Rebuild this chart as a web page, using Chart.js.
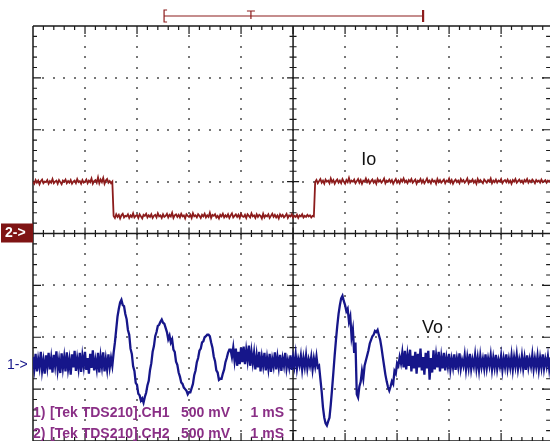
<!DOCTYPE html>
<html>
<head>
<meta charset="utf-8">
<title>Io / Vo scope capture</title>
<script src="https://cdn.jsdelivr.net/npm/chart.js@4/dist/chart.umd.min.js"></script>
<style>
  html, body { margin: 0; padding: 0; background: #fff; }
  canvas { display: block; }
</style>
</head>
<body>
<canvas id="scope" width="550" height="441"></canvas>
<script>
// one sample every 0.025 division (1 div = 1 mS horizontally, 500 mV vertically)
const SAMPLE_DIV = 0.025;

// CH2 - Io, in divisions
const ioValues = [
  1.00, 0.96, 1.03, 0.98, 1.02, 0.95, 1.01, 1.04, 0.97, 1.00,
  0.99, 1.03, 0.96, 1.01, 0.98, 1.05, 0.97, 1.00, 1.02, 0.96,
  1.03, 0.99, 0.95, 1.02, 1.00, 1.04, 0.97, 1.01, 0.98, 1.03,
  0.96, 1.00, 1.02, 0.97, 1.05, 0.99, 1.01, 0.96, 1.03, 0.98,
  1.00, 1.04, 0.97, 1.02, 0.99, 1.06, 0.96, 1.01, 1.03, 0.98,
  1.08, 0.97, 1.04, 0.99, 1.07, 0.96, 1.02, 1.05, 0.98, 1.01,
  0.97, 1.00,
  0.34, 0.30, 0.37, 0.32, 0.36, 0.29, 0.35, 0.38, 0.31, 0.34,
  0.33, 0.37, 0.30, 0.35, 0.32, 0.39, 0.31, 0.34, 0.36, 0.30,
  0.37, 0.33, 0.29, 0.36, 0.34, 0.38, 0.31, 0.35, 0.32, 0.37,
  0.30, 0.34, 0.36, 0.31, 0.39, 0.33, 0.35, 0.30, 0.37, 0.32,
  0.34, 0.38, 0.31, 0.36, 0.33, 0.40, 0.30, 0.35, 0.37, 0.32,
  0.36, 0.31, 0.38, 0.33, 0.35, 0.29, 0.37, 0.34, 0.32, 0.36,
  0.30, 0.39, 0.33, 0.35, 0.31, 0.37, 0.34, 0.30, 0.36, 0.33,
  0.38, 0.31, 0.35, 0.32, 0.40, 0.30, 0.36, 0.34, 0.37, 0.31,
  0.34, 0.29, 0.36, 0.33, 0.38, 0.31, 0.35, 0.32, 0.37, 0.30,
  0.35, 0.39, 0.31, 0.34, 0.37, 0.32, 0.36, 0.30, 0.38, 0.33,
  0.32, 0.36, 0.30, 0.37, 0.34, 0.31, 0.39, 0.33, 0.35, 0.30,
  0.37, 0.32, 0.36, 0.34, 0.29, 0.38, 0.31, 0.35, 0.33, 0.37,
  0.30, 0.34, 0.38, 0.32, 0.36, 0.31, 0.35, 0.29, 0.37, 0.33,
  0.36, 0.31, 0.34, 0.38, 0.30, 0.35, 0.33, 0.37, 0.31, 0.34,
  0.32, 0.36, 0.30, 0.35, 0.33, 0.37, 0.31, 0.34, 0.32, 0.36,
  0.33, 0.35, 0.31, 0.34, 0.33,
  0.99, 1.03, 0.97, 1.01, 1.05, 0.98, 1.02, 0.96, 1.04, 1.00,
  1.02, 0.97, 1.06, 0.99, 1.03, 0.96, 1.01, 1.04, 0.98, 1.02,
  0.97, 1.05, 1.00, 0.96, 1.03, 0.99, 1.07, 0.98, 1.02, 1.00,
  1.04, 0.97, 1.01, 1.05, 0.98, 1.03, 0.96, 1.02, 1.00, 1.06,
  0.99, 1.03, 0.97, 1.01, 1.04, 0.98, 1.02, 0.96, 1.05, 1.00,
  1.03, 0.98, 1.01, 1.06, 0.97, 1.02, 1.00, 1.04, 0.99, 1.03,
  0.96, 1.01, 1.05, 0.98, 1.02, 0.97, 1.04, 1.00, 1.06, 0.99,
  1.02, 0.97, 1.03, 1.00, 1.05, 0.98, 1.01, 1.04, 0.96, 1.02,
  1.00, 1.05, 0.98, 1.03, 0.97, 1.01, 1.06, 0.99, 1.02, 0.97,
  1.04, 1.00, 1.02, 0.96, 1.05, 0.99, 1.03, 0.98, 1.01, 1.04,
  0.97, 1.02, 1.00, 1.06, 0.98, 1.03, 0.96, 1.01, 1.04, 0.99,
  1.02, 0.97, 1.05, 1.00, 1.03, 0.98, 1.01, 1.06, 0.97, 1.02,
  1.00, 1.04, 0.98, 1.02, 0.96, 1.05, 0.99, 1.03, 1.00, 0.97,
  1.04, 1.01, 0.98, 1.03, 1.00, 1.06, 0.97, 1.02, 0.99, 1.04,
  0.98, 1.02, 1.00, 1.05, 0.97, 1.01, 1.03, 0.99, 1.04, 0.98,
  1.02, 0.96, 1.03, 1.00, 1.05, 0.98, 1.01, 1.04, 0.99, 1.02,
  0.97, 1.03, 1.00, 1.05, 0.98, 1.02, 0.99, 1.04, 1.01, 0.97,
  1.03, 1.00, 1.02, 0.98, 1.04, 0.99, 1.01, 1.03, 0.98, 1.02,
  1.00, 1.03, 0.99, 1.01
];

// CH1 - Vo, in divisions
const voValues = [
  -2.38, -2.60, -2.32, -2.66, -2.42, -2.58, -2.28, -2.64, -2.45, -2.70,
  -2.35, -2.57, -2.30, -2.62, -2.40, -2.68, -2.34, -2.55, -2.27, -2.63,
  -2.44, -2.69, -2.31, -2.59, -2.38, -2.66, -2.29, -2.61, -2.43, -2.72,
  -2.33, -2.58, -2.26, -2.65, -2.41, -2.60, -2.30, -2.67, -2.36, -2.56,
  -2.28, -2.63, -2.40, -2.70, -2.32, -2.59, -2.25, -2.64, -2.44, -2.61,
  -2.30, -2.68, -2.37, -2.57, -2.29, -2.66, -2.42, -2.62, -2.33, -2.58,
  -2.40, -2.55,
  -2.30, -2.10, -1.85, -1.60, -1.45, -1.33, -1.28, -1.38, -1.40, -1.55,
  -1.65, -1.86, -1.95, -2.22, -2.32, -2.56, -2.65, -2.88, -2.92, -3.09,
  -3.12, -3.22, -3.18, -3.26, -3.15, -3.07, -2.93, -2.84, -2.63, -2.50,
  -2.28, -2.17, -1.98, -1.90, -1.78, -1.76, -1.70, -1.66, -1.72, -1.74,
  -1.82, -1.90, -2.04, -1.97, -2.10, -2.04, -2.24, -2.28, -2.47, -2.53,
  -2.68, -2.76, -2.87, -2.90, -2.97, -3.00, -3.03, -3.10, -3.06, -3.06,
  -2.98, -2.90, -2.73, -2.64, -2.48, -2.40, -2.26, -2.22, -2.10, -2.08,
  -2.00, -1.98, -1.95, -1.95, -1.98, -2.10, -2.20, -2.37, -2.46, -2.64,
  -2.68, -2.82, -2.80, -2.80, -2.70, -2.62, -2.48, -2.40, -2.30, -2.24,
  -2.24, -2.38, -2.20, -2.45, -2.22, -2.55, -2.28, -2.52,
  -2.20, -2.48, -2.18, -2.52, -2.25, -2.45, -2.16, -2.55, -2.28, -2.50,
  -2.30, -2.62, -2.35, -2.58, -2.28, -2.66, -2.38, -2.55, -2.30, -2.64,
  -2.40, -2.60, -2.32, -2.67, -2.42, -2.56, -2.29, -2.62, -2.38, -2.58,
  -2.34, -2.65, -2.41, -2.55, -2.30, -2.60, -2.44, -2.58, -2.35, -2.63,
  -2.39, -2.56, -2.33, -2.60, -2.42, -2.54, -2.36, -2.62, -2.40, -2.57,
  -2.35, -2.60, -2.43, -2.55, -2.38, -2.62, -2.41, -2.56, -2.37, -2.58,
  -2.55, -2.80, -3.05, -3.35, -3.55, -3.66, -3.70, -3.62, -3.55, -3.30,
  -3.00, -2.68, -2.35, -2.05, -1.78, -1.55, -1.38, -1.25, -1.20, -1.30,
  -1.38, -1.50, -1.45, -1.70, -1.60, -2.00, -1.85, -2.30, -2.10, -3.10,
  -3.16, -2.95, -2.86, -2.65, -2.80, -2.55, -2.45, -2.35, -2.25, -2.12,
  -2.05, -1.98, -1.95, -1.88, -1.90, -1.86, -1.96, -2.05, -2.20, -2.38,
  -2.55, -2.72, -2.85, -2.96, -3.03, -2.95, -2.85, -2.90, -2.65, -2.70,
  -2.50, -2.55, -2.38, -2.50,
  -2.30, -2.58, -2.26, -2.62, -2.34, -2.55, -2.24, -2.66, -2.36, -2.60,
  -2.28, -2.70, -2.32, -2.58, -2.22, -2.64, -2.38, -2.72, -2.30, -2.60,
  -2.26, -2.82, -2.40, -2.68, -2.25, -2.62, -2.35, -2.58, -2.28, -2.66,
  -2.38, -2.60, -2.30, -2.64, -2.40, -2.56, -2.32, -2.62, -2.42, -2.58,
  -2.33, -2.63, -2.41, -2.57, -2.31, -2.60, -2.44, -2.55, -2.35, -2.62,
  -2.39, -2.58, -2.32, -2.61, -2.43, -2.56, -2.34, -2.60, -2.40, -2.63,
  -2.36, -2.57, -2.42, -2.60, -2.33, -2.59, -2.41, -2.55, -2.35, -2.62,
  -2.40, -2.58, -2.34, -2.61, -2.44, -2.56, -2.36, -2.63, -2.41, -2.57,
  -2.33, -2.60, -2.42, -2.58, -2.35, -2.62, -2.39, -2.56, -2.34, -2.61,
  -2.43, -2.57, -2.36, -2.60, -2.40, -2.63, -2.35, -2.58, -2.42, -2.56,
  -2.34, -2.61, -2.41, -2.57, -2.36, -2.62, -2.40, -2.58, -2.33, -2.60,
  -2.42, -2.56, -2.37, -2.61, -2.40, -2.57, -2.48
];

// screen annotations
const traceLabels = [
  { text: 'Io', t: 6.31, v: 1.32, color: '#111' },
  { text: 'Vo', t: 7.48, v: -1.91, color: '#111' }
];
const groundMarkers = { ch2: 0, ch1: -2.53 };
const triggerWindow = { from: 2.52, mark: 4.19, to: 7.50 };
const infoLines = [
  ['1)', '[Tek TDS210].CH1', '500 mV', '1 mS'],
  ['2)', '[Tek TDS210].CH2', '500 mV', '1 mS']
];

const IO_COLOR = '#8c1c1c';
const VO_COLOR = '#16168a';
const TEXT_COLOR = '#8a2f86';

const toPoints = vals => vals.map((v, i) => ({ x: i * SAMPLE_DIV, y: v }));

const graticule = {
  id: 'graticule',
  beforeDatasetsDraw(chart) {
    const { ctx, scales: { x, y } } = chart;
    const X = v => x.getPixelForValue(v);
    const Y = v => y.getPixelForValue(v);
    const left = X(0), right = X(10), top = Y(4), bottom = Y(-4), cx = X(5), cy = Y(0);
    const dot = (px, py) => ctx.fillRect(Math.round(px) - 1, Math.round(py) - 1, 2, 2);
    ctx.save();

    // dotted division lines
    ctx.fillStyle = '#777';
    for (let i = 1; i < 10; i++) {
      if (i === 5) continue;
      for (let k = 1; k < 40; k++) dot(X(i), Y(-4 + k / 5));
    }
    for (let j = -3; j <= 3; j++) {
      if (j === 0) continue;
      for (let k = 1; k < 50; k++) dot(X(k / 5), Y(j));
    }

    ctx.strokeStyle = '#1a1a1a';
    ctx.lineWidth = 1.5;
    ctx.beginPath();
    ctx.moveTo(left, top); ctx.lineTo(right, top);
    ctx.moveTo(left, top); ctx.lineTo(left, bottom);
    ctx.moveTo(right, top); ctx.lineTo(right, bottom);
    ctx.moveTo(left, bottom); ctx.lineTo(right, bottom);
    ctx.moveTo(cx, top); ctx.lineTo(cx, bottom);
    ctx.moveTo(left, cy); ctx.lineTo(right, cy);
    ctx.stroke();

    // ticks every fifth of a division
    ctx.lineWidth = 1.2;
    ctx.beginPath();
    for (let k = 1; k < 50; k++) {
      const px = X(k / 5);
      const major = k % 5 === 0;
      const len = major ? 8 : 4;
      ctx.moveTo(px, top); ctx.lineTo(px, top + len);
      ctx.moveTo(px, bottom); ctx.lineTo(px, bottom - len);
      ctx.moveTo(px, cy - (major ? 6 : 3.5)); ctx.lineTo(px, cy + (major ? 6 : 3.5));
    }
    for (let k = 1; k < 40; k++) {
      const py = Y(-4 + k / 5);
      const major = k % 5 === 0;
      const len = major ? 8 : 4;
      ctx.moveTo(left, py); ctx.lineTo(left + len, py);
      ctx.moveTo(right, py); ctx.lineTo(right - len - 3, py);
      ctx.moveTo(cx - (major ? 6 : 3.5), py); ctx.lineTo(cx + (major ? 6 : 3.5), py);
    }
    ctx.stroke();

    // trigger window on top
    const ty = top - 10;
    const l = X(triggerWindow.from), r = X(triggerWindow.to), m = X(triggerWindow.mark);
    ctx.strokeStyle = IO_COLOR;
    ctx.lineWidth = 1.2;
    ctx.beginPath();
    ctx.moveTo(l, ty); ctx.lineTo(r, ty);
    ctx.moveTo(l + 3, ty - 6); ctx.lineTo(l, ty - 6); ctx.lineTo(l, ty + 6); ctx.lineTo(l + 3, ty + 6);
    ctx.moveTo(m - 4, ty - 5); ctx.lineTo(m + 4, ty - 5);
    ctx.moveTo(m, ty - 5); ctx.lineTo(m, ty + 3);
    ctx.stroke();
    ctx.lineWidth = 2.2;
    ctx.beginPath();
    ctx.moveTo(r, ty - 6); ctx.lineTo(r, ty + 6);
    ctx.stroke();

    ctx.restore();
  },
  afterDatasetsDraw(chart) {
    const { ctx, chartArea: a, scales: { x, y } } = chart;
    ctx.save();

    ctx.textBaseline = 'alphabetic';
    ctx.textAlign = 'left';
    ctx.font = '18px "Liberation Sans", Arial, sans-serif';
    traceLabels.forEach(lb => {
      ctx.fillStyle = lb.color;
      ctx.fillText(lb.text, x.getPixelForValue(lb.t), y.getPixelForValue(lb.v));
    });

    // channel ground markers
    const g2 = y.getPixelForValue(groundMarkers.ch2);
    ctx.fillStyle = '#7f1414';
    ctx.fillRect(1, g2 - 10, a.left - 1, 19);
    ctx.fillStyle = '#fff';
    ctx.font = 'bold 14px "Liberation Sans", Arial, sans-serif';
    ctx.textBaseline = 'middle';
    ctx.fillText('2->', 5, g2);
    const g1 = y.getPixelForValue(groundMarkers.ch1);
    ctx.fillStyle = VO_COLOR;
    ctx.font = '14px "Liberation Sans", Arial, sans-serif';
    ctx.fillText('1->', 7, g1);

    // channel info
    ctx.fillStyle = TEXT_COLOR;
    ctx.font = 'bold 14px "Liberation Sans", Arial, sans-serif';
    ctx.textBaseline = 'alphabetic';
    infoLines.forEach((parts, i) => {
      const by = a.bottom - 24 + i * 21;
      ctx.textAlign = 'left';
      ctx.fillText(parts[0], a.left, by);
      ctx.fillText(parts[1], a.left + 17, by);
      ctx.fillText(parts[2], a.left + 148, by);
      ctx.textAlign = 'right';
      ctx.fillText(parts[3], a.left + 251, by);
    });

    ctx.restore();
  }
};

new Chart(document.getElementById('scope'), {
  type: 'line',
  data: {
    datasets: [
      {
        label: 'Io',
        data: toPoints(ioValues),
        borderColor: IO_COLOR,
        borderWidth: 1.8,
        pointRadius: 0,
        tension: 0
      },
      {
        label: 'Vo',
        data: toPoints(voValues),
        borderColor: VO_COLOR,
        borderWidth: 2.3,
        pointRadius: 0,
        tension: 0
      }
    ]
  },
  options: {
    responsive: false,
    animation: false,
    events: [],
    layout: { padding: { left: 33, top: 26, right: 0, bottom: 0 } },
    scales: {
      x: { type: 'linear', min: 0, max: 9.94, display: false },
      y: { type: 'linear', min: -4, max: 4, display: false }
    },
    plugins: {
      legend: { display: false },
      tooltip: { enabled: false }
    }
  },
  plugins: [graticule]
});
</script>
</body>
</html>
